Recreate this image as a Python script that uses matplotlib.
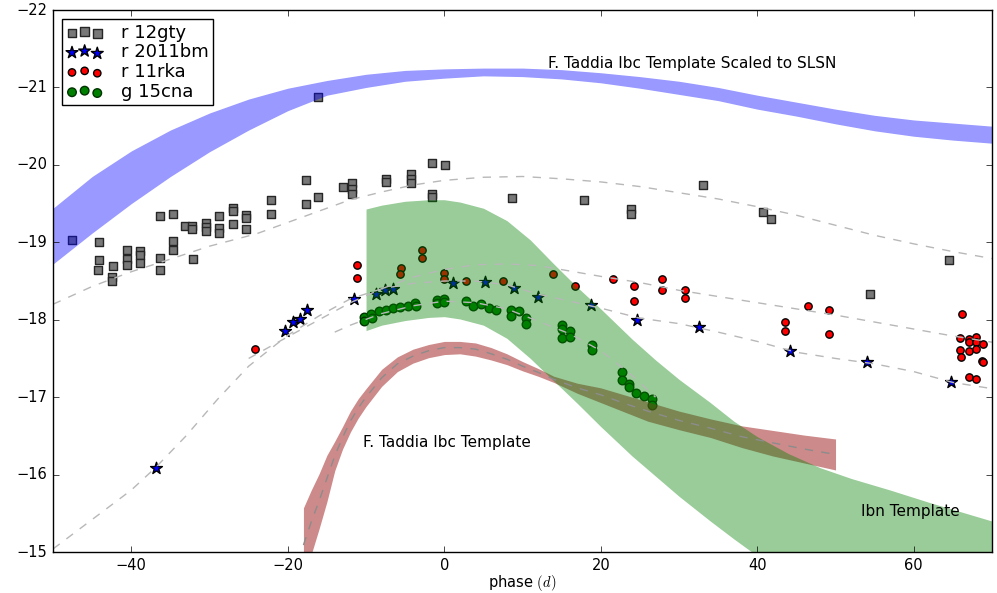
import numpy as np
import matplotlib
matplotlib.use('Agg')
import matplotlib.pyplot as plt

# r-band 12gty
gty_phase = [-47.6, -44.1, -44.1, -44.2, -42.4, -42.5, -42.5, -40.6, -40.6, -40.6,
             -38.9, -38.9, -38.9, -36.3, -36.3, -36.3, -34.7, -34.7, -34.7, -33.1,
             -32.2, -32.2, -32.1, -30.4, -30.4, -30.4, -28.8, -28.8, -28.8, -27.0,
             -27.0, -27.0, -25.3, -25.3, -25.3, -22.1, -22.1, -17.7, -17.7, -16.1,
             -16.1, -12.9, -11.8, -11.8, -11.8, -7.5, -7.5, -4.2, -4.2, -4.2,
             -1.6, 0.1, -1.6, -1.6, 8.6, 17.9, 23.9, 23.9, 33.1, 40.7, 41.7, 54.4, 64.5]
gty_mag = [-19.03, -19.01, -18.77, -18.64, -18.69, -18.55, -18.50, -18.90, -18.79, -18.71,
           -18.89, -18.83, -18.73, -19.34, -18.80, -18.64, -19.37, -19.02, -18.90, -19.21,
           -19.21, -19.17, -18.79, -19.25, -19.20, -19.15, -19.34, -19.18, -19.12, -19.44,
           -19.41, -19.24, -19.35, -19.31, -19.17, -19.54, -19.36, -19.81, -19.49, -20.88,
           -19.58, -19.71, -19.76, -19.69, -19.63, -19.82, -19.78, -19.88, -19.82, -19.77,
           -20.03, -20.00, -19.63, -19.58, -19.57, -19.55, -19.43, -19.37, -19.74, -19.39,
           -19.30, -18.33, -18.77]

# r-band 2011bm
bm_phase = [-36.9, -20.3, -19.3, -18.5, -17.5, -11.6, -8.7, -7.6, -6.6, 1.1,
            5.2, 8.9, 12.0, 18.7, 24.6, 32.6, 44.2, 54.0, 64.8]
bm_mag = [-16.09, -17.86, -17.97, -18.01, -18.12, -18.27, -18.33, -18.39, -18.40, -18.48,
          -18.49, -18.41, -18.30, -18.19, -18.00, -17.90, -17.59, -17.45, -17.19]

# r-band 11rka
rka_phase = [-24.2, -11.2, -11.2, -5.5, -5.6, -2.9, -2.9, 0.0, 0.0, 2.8,
             7.5, 13.9, 16.7, 21.5, 24.2, 24.2, 27.8, 27.8, 30.7, 30.7,
             43.6, 43.6, 46.5, 49.2, 49.2, 66.2, 65.9, 67.0, 67.9, 67.1,
             67.9, 68.8, 65.9, 67.0, 67.9, 66.0, 68.7, 68.9, 67.1, 67.9]
rka_mag = [-17.62, -18.71, -18.54, -18.67, -18.59, -18.90, -18.80, -18.61, -18.52, -18.50,
           -18.50, -18.59, -18.44, -18.52, -18.43, -18.24, -18.53, -18.39, -18.38, -18.28,
           -17.97, -17.86, -18.18, -18.12, -17.81, -18.07, -17.77, -17.75, -17.78, -17.71,
           -17.71, -17.69, -17.61, -17.59, -17.62, -17.52, -17.47, -17.45, -17.26, -17.23]

# g-band 15cna
cna_phase = [-10.3, -10.3, -9.4, -9.2, -8.4, -7.5, -6.6, -5.6, -4.7, -3.7,
             -3.6, -0.9, -0.9, 0.0, 0.0, 2.8, 3.7, 4.7, 5.7, 6.6,
             8.5, 8.5, 9.5, 10.4, 10.4, 15.0, 15.0, 15.0, 16.1, 16.1,
             18.9, 18.9, 22.7, 22.7, 23.6, 23.6, 24.5, 25.5, 26.5, 26.5]
cna_mag = [-18.03, -17.99, -18.08, -18.02, -18.11, -18.13, -18.15, -18.17, -18.18, -18.21,
           -18.18, -18.25, -18.21, -18.27, -18.23, -18.24, -18.18, -18.20, -18.15, -18.13,
           -18.12, -18.05, -18.11, -18.02, -17.94, -17.93, -17.88, -17.77, -17.85, -17.78,
           -17.67, -17.61, -17.32, -17.22, -17.17, -17.13, -17.05, -17.02, -16.98, -16.90]

# template fits to each object
fit_gty_phase = [-50, -45, -40, -36, -30, -24, -18, -12, -8, -4, 0, 5, 10, 15, 20,
                 25, 30, 35, 40, 45, 50, 55, 60, 65, 70]
fit_gty_mag = [-18.20, -18.43, -18.62, -18.75, -18.95, -19.11, -19.33, -19.55, -19.65, -19.74,
               -19.80, -19.84, -19.85, -19.82, -19.78, -19.72, -19.64, -19.56, -19.46, -19.35,
               -19.22, -19.09, -18.98, -18.88, -18.79]

fit_bm_phase = [-50, -45, -40, -36.9, -33, -29, -25, -20, -16, -12, -8, -4, 0, 4, 8,
                12, 16, 20, 25, 30, 35, 40, 45, 50, 55, 60, 65, 70]
fit_bm_mag = [-15.04, -15.42, -15.80, -16.09, -16.50, -16.97, -17.40, -17.80, -18.05, -18.27,
              -18.40, -18.47, -18.50, -18.50, -18.45, -18.33, -18.24, -18.15, -18.02, -17.95,
              -17.84, -17.72, -17.58, -17.50, -17.43, -17.33, -17.19, -17.11]

fit_rka_phase = [-25, -20, -16, -12, -8, -4, 0, 4, 8, 12, 16, 20, 25, 30, 35,
                 40, 45, 50, 55, 60, 65, 70]
fit_rka_mag = [-17.50, -17.78, -18.00, -18.22, -18.40, -18.55, -18.65, -18.71, -18.72, -18.70,
               -18.63, -18.56, -18.48, -18.38, -18.30, -18.22, -18.14, -18.06, -17.97, -17.88,
               -17.79, -17.71]

fit_cna_phase = [-14, -12, -8, -4, 0, 4, 8, 12, 16, 20, 24, 27]
fit_cna_mag = [-17.84, -17.93, -18.08, -18.18, -18.24, -18.22, -18.14, -17.98, -17.82, -17.60,
               -17.28, -17.00]

# Ibc template scaled to SLSN peak
slsn_phase = [-50, -45, -40, -35, -30, -25, -20, -15, -10, -5, 0, 5, 10, 15, 20,
              25, 30, 35, 40, 45, 50, 55, 60, 65, 70]
slsn_bright = [-19.44, -19.85, -20.18, -20.45, -20.67, -20.85, -20.99, -21.09, -21.17, -21.22,
               -21.24, -21.25, -21.25, -21.23, -21.19, -21.14, -21.08, -21.00, -20.90, -20.81,
               -20.72, -20.64, -20.58, -20.54, -20.50]
slsn_faint = [-18.72, -19.12, -19.50, -19.85, -20.17, -20.45, -20.70, -20.90, -21.00, -21.08,
              -21.12, -21.15, -21.14, -21.11, -21.06, -20.99, -20.91, -20.83, -20.72, -20.63,
              -20.53, -20.44, -20.37, -20.32, -20.28]

# Ibc template (Taddia)
ibc_phase = [-18, -17, -16, -15, -14, -13, -12, -11, -10, -8, -6, -4, -2, 0, 2,
             4, 6, 8, 10, 12, 14, 17, 20, 23, 26, 30, 34, 38, 42, 46, 50]
ibc_bright = [-15.57, -15.80, -16.01, -16.25, -16.43, -16.62, -16.82, -16.98, -17.11, -17.36,
              -17.52, -17.62, -17.68, -17.72, -17.72, -17.70, -17.64, -17.56, -17.46, -17.37,
              -17.27, -17.18, -17.12, -17.03, -16.94, -16.82, -16.72, -16.63, -16.57, -16.51,
              -16.46]
ibc_faint = [-14.60, -14.97, -15.30, -15.65, -16.05, -16.33, -16.55, -16.73, -16.88, -17.14,
             -17.33, -17.44, -17.51, -17.55, -17.56, -17.53, -17.48, -17.42, -17.34, -17.27,
             -17.19, -17.05, -16.93, -16.81, -16.69, -16.58, -16.48, -16.35, -16.24, -16.15,
             -16.06]
ibc_mean = [-15.09, -15.39, -15.66, -15.95, -16.24, -16.48, -16.69, -16.86, -17.00, -17.25,
            -17.43, -17.53, -17.60, -17.64, -17.64, -17.62, -17.56, -17.49, -17.40, -17.32,
            -17.23, -17.12, -17.03, -16.92, -16.82, -16.70, -16.60, -16.49, -16.41, -16.33,
            -16.26]

# Ibn template
ibn_phase = [-10, -8, -5, -2, 0, 2, 5, 8, 11, 14, 17, 20, 24, 27, 30,
             34, 37, 40, 44, 48, 52, 57, 62, 66, 70]
ibn_bright = [-19.43, -19.48, -19.53, -19.55, -19.55, -19.52, -19.44, -19.28, -19.03, -18.72,
              -18.42, -18.14, -17.75, -17.48, -17.23, -16.93, -16.69, -16.49, -16.27, -16.09,
              -15.95, -15.80, -15.64, -15.52, -15.40]
ibn_faint = [-17.86, -17.93, -17.99, -18.03, -18.04, -18.01, -17.93, -17.76, -17.50, -17.21,
             -16.92, -16.62, -16.24, -15.98, -15.72, -15.40, -15.17, -14.95, -14.65, -14.40,
             -14.20, -14.00, -13.85, -13.75, -13.65]

plt.style.use('classic')
plt.rcParams['figure.facecolor'] = 'white'
plt.rcParams['savefig.facecolor'] = 'white'

fig = plt.figure(figsize=(9.97, 5.93), dpi=100)
ax = fig.add_axes([0.0532, 0.0691, 0.9418, 0.9140])

ax.scatter(gty_phase, gty_mag, marker='s', s=38, c='0.47', edgecolors='0.15', label='r 12gty')
ax.scatter(bm_phase, bm_mag, marker='*', s=80, c='b', edgecolors='k', label='r 2011bm')
ax.scatter(rka_phase, rka_mag, marker='o', s=28, c='r', edgecolors='k', label='r 11rka')
ax.scatter(cna_phase, cna_mag, marker='o', s=38, c='g', edgecolors='#003300', label='g 15cna')

ax.fill_between(slsn_phase, slsn_bright, slsn_faint, color='b', alpha=0.4, lw=0)
ax.fill_between(ibc_phase, ibc_bright, ibc_faint, color='#a52a2a', alpha=0.55, lw=0)
ax.fill_between(ibn_phase, ibn_bright, ibn_faint, color='g', alpha=0.4, lw=0)

dash = dict(color='0.72', ls='--', lw=1, dashes=(6, 6))
ax.plot(fit_gty_phase, fit_gty_mag, **dash)
ax.plot(fit_bm_phase, fit_bm_mag, **dash)
ax.plot(fit_rka_phase, fit_rka_mag, **dash)
ax.plot(fit_cna_phase, fit_cna_mag, **dash)
ax.plot(ibc_phase, ibc_mean, color='0.55', ls='--', lw=1, dashes=(6, 6))

ax.text(13.2, -21.31, 'F. Taddia Ibc Template Scaled to SLSN', fontsize=11, va='center')
ax.text(-10.35, -16.41, 'F. Taddia Ibc Template', fontsize=11, va='center')
ax.text(53.2, -15.52, 'Ibn Template', fontsize=11, va='center')

ax.set_xlim(-50, 70)
ax.set_ylim(-15, -22)
ax.set_xlabel('phase $(d)$', fontsize=10.5, labelpad=0)
ax.tick_params(labelsize=10.5)

ax.legend(loc='upper left', scatterpoints=3, fontsize=13, labelspacing=0.1,
          borderpad=0.25, borderaxespad=0.5, handletextpad=1.0)

fig.savefig('out.png', dpi=100)
